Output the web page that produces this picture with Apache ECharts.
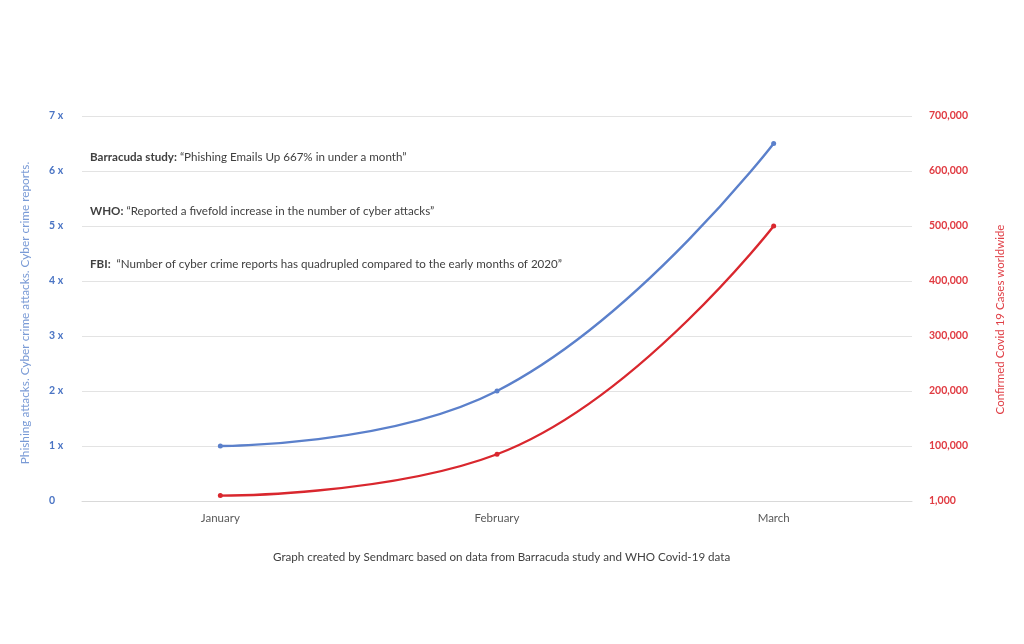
<!DOCTYPE html>
<html>
<head>
<meta charset="utf-8">
<script src="https://cdn.jsdelivr.net/npm/echarts@6/dist/echarts.min.js"></script>
<style>
  html, body { margin: 0; padding: 0; background: #fff; }
  #chart { width: 1024px; height: 644px; }
</style>
</head>
<body>
<div id="chart"></div>
<script>
// Cyber attacks multiplier vs confirmed Covid-19 cases, Jan–Mar 2020.
const months = ["January", "February", "March"];
const attackMultiplier = [1, 2, 6.5];
const covidCases = [9800, 85000, 500000];
const leftTicks = ["0", "1 x", "2 x", "3 x", "4 x", "5 x", "6 x", "7 x"];
const rightTicks = ["1,000", "100,000", "200,000", "300,000", "400,000", "500,000", "600,000", "700,000"];
const notes = [
  ["Barracuda study:", " \u201CPhishing Emails Up 667% in under a month\u201D"],
  ["WHO:", " \u201CReported a fivefold increase in the number of cyber attacks\u201D"],
  ["FBI:", "  \u201CNumber of cyber crime reports has quadrupled compared to the early months of 2020\u201D"],
];
const footer = "Graph created by Sendmarc based on data from Barracuda study and WHO Covid-19 data";

const FONT = "Lato, 'Open Sans', sans-serif";
const BLUE = "#5b80cb";
const RED = "#d9272e";

const chart = echarts.init(document.getElementById("chart"));

const noteTop = [151, 205, 258];
const graphic = notes.map((n, i) => ({
  type: "text", left: 90, top: noteTop[i],
  style: {
    text: "{b|" + n[0] + "}{n|" + n[1] + "}",
    rich: {
      b: { fontWeight: "bold", fontSize: 11.6, fill: "#404040", fontFamily: FONT },
      n: { fontSize: 11.6, fill: "#404040", fontFamily: FONT },
    },
  },
}));
graphic.push({
  type: "text", left: 273, top: 551,
  style: { text: footer, fontSize: 11.6, fill: "#404040", fontFamily: FONT },
});

chart.setOption({
  animation: false,
  textStyle: { fontFamily: FONT },
  grid: { left: 82, right: 112, top: 116, bottom: 143 },
  xAxis: {
    type: "category", data: months, boundaryGap: true,
    axisLine: { lineStyle: { color: "#d9d9d9" } },
    axisTick: { show: false },
    axisLabel: { color: "#595959", fontSize: 11.5, margin: 11 },
  },
  yAxis: [
    {
      type: "value", min: 0, max: 7, interval: 1, position: "left",
      name: "Phishing attacks. Cyber crime attacks. Cyber crime reports.",
      nameLocation: "middle", nameGap: 51, nameRotate: 90,
      nameTextStyle: { color: "#7a9bd6", fontSize: 11.8, padding: [0, 9, 0, 0] },
      axisLine: { show: false }, axisTick: { show: false },
      splitLine: { lineStyle: { color: "#e3e3e3" } },
      axisLabel: {
        color: "#4a74c4", fontWeight: "bold", fontSize: 10.5, align: "left", margin: 33,
        formatter: (v) => leftTicks[Math.round(v)],
      },
    },
    {
      type: "value", min: 0, max: 700000, interval: 100000, position: "right",
      name: "Confirmed Covid 19 Cases worldwide",
      nameLocation: "middle", nameGap: 82, nameRotate: 90,
      nameTextStyle: { color: "#e04047", fontSize: 11.5, padding: [0, 22, 0, 0] },
      axisLine: { show: false }, axisTick: { show: false },
      splitLine: { show: false },
      axisLabel: {
        color: "#e03a41", fontWeight: "bold", fontSize: 10.5, align: "left", margin: 17,
        formatter: (v) => rightTicks[Math.round(v / 100000)],
      },
    },
  ],
  series: [
    {
      name: "Cyber attacks", type: "line", yAxisIndex: 0, data: attackMultiplier,
      smooth: 0.45, symbol: "circle", symbolSize: 5,
      lineStyle: { color: BLUE, width: 2.4 }, itemStyle: { color: BLUE },
    },
    {
      name: "Covid-19 cases", type: "line", yAxisIndex: 1, data: covidCases,
      smooth: 0.45, symbol: "circle", symbolSize: 5,
      lineStyle: { color: RED, width: 2.4 }, itemStyle: { color: RED },
    },
  ],
  graphic: graphic,
});
</script>
</body>
</html>
